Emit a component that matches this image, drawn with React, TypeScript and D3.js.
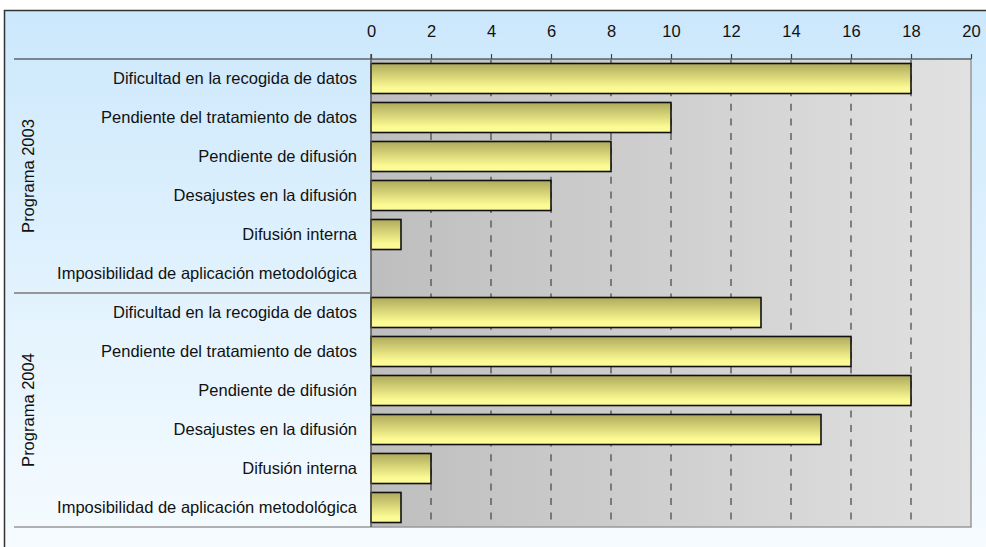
import React, { useEffect, useRef } from "react";
import { axisTop, scaleBand, scaleLinear, select } from "d3";

// categories repeated for each programme
const categories = [
  "Dificultad en la recogida de datos",
  "Pendiente del tratamiento de datos",
  "Pendiente de difusión",
  "Desajustes en la difusión",
  "Difusión interna",
  "Imposibilidad de aplicación metodológica",
];

const groups = ["Programa 2003", "Programa 2004"];

const values2003 = [18, 10, 8, 6, 1, 0];
const values2004 = [13, 16, 18, 15, 2, 1];

const xTicks = [0, 2, 4, 6, 8, 10, 12, 14, 16, 18, 20];

const FONT = "'Liberation Sans', Arial, sans-serif";

export default function App() {
  const width = 986,
    height = 547;

  const plotLeft = 371,
    plotRight = 971,
    plotTop = 59,
    plotBottom = 527,
    labelLeft = 14;

  const rows = [
    ...categories.map((c, i) => ({ group: groups[0], label: c, value: values2003[i], key: "a" + i })),
    ...categories.map((c, i) => ({ group: groups[1], label: c, value: values2004[i], key: "b" + i })),
  ];

  const x = scaleLinear().domain([0, 20]).range([plotLeft, plotRight]);
  const y = scaleBand()
    .domain(rows.map(r => r.key))
    .range([plotTop, plotBottom])
    .paddingInner(0.23)
    .paddingOuter(0.115);

  const step = y.step();
  const axisRef = useRef(null);

  useEffect(() => {
    const axis = axisTop(x)
      .tickValues(xTicks)
      .tickSize(5)
      .tickSizeOuter(0)
      .tickPadding(17);
    const g = select(axisRef.current);
    g.call(axis);
    g.select(".domain").remove();
    g.selectAll(".tick line").attr("stroke", "#444").attr("stroke-width", 1.2);
    g.selectAll(".tick text")
      .attr("fill", "#111")
      .style("font-size", "16.5px")
      .style("font-family", FONT);
  }, []);

  const groupY = (gi: number) => plotTop + gi * 6 * step;

  return (
    <svg
      width={width}
      height={height}
      style={{ position: "absolute", left: 0, top: 0 }}
    >
      <defs>
        <linearGradient id="bg" x1="0" y1="0" x2="0" y2="1">
          <stop offset="0" stopColor="#cce8fc" />
          <stop offset="1" stopColor="#f7fcff" />
        </linearGradient>
        <linearGradient id="plotBg" x1="0" y1="0" x2="1" y2="0">
          <stop offset="0" stopColor="#bebebe" />
          <stop offset="1" stopColor="#e1e1e1" />
        </linearGradient>
        <linearGradient id="bar" x1="0" y1="0" x2="0" y2="1">
          <stop offset="0" stopColor="#aeaa5c" />
          <stop offset="0.8" stopColor="#fbf992" />
          <stop offset="1" stopColor="#fdfc9c" />
        </linearGradient>
      </defs>

      <rect
        x={4.5}
        y={10.5}
        width={width + 10}
        height={height + 10}
        fill="url(#bg)"
        stroke="#333"
        strokeWidth={1.5}
      />

      <rect
        x={plotLeft}
        y={plotTop}
        width={plotRight - plotLeft}
        height={plotBottom - plotTop}
        fill="url(#plotBg)"
      />

      {xTicks.slice(1, -1).map(t => (
        <line
          key={t}
          x1={x(t)}
          x2={x(t)}
          y1={plotTop + 1}
          y2={plotBottom}
          stroke="#444"
          strokeWidth={1.2}
          strokeDasharray="7,7.6"
        />
      ))}

      {rows
        .filter(r => r.value > 0)
        .map(r => (
          <rect
            key={r.key}
            x={x(0)}
            y={y(r.key)}
            width={x(r.value) - x(0)}
            height={y.bandwidth()}
            fill="url(#bar)"
            stroke="#111"
            strokeWidth={1.6}
          />
        ))}

      {/* plot frame */}
      <line x1={plotRight} x2={plotRight} y1={plotTop} y2={plotBottom} stroke="#999" strokeWidth={1.5} />
      <line x1={labelLeft} x2={plotRight + 0.75} y1={plotBottom} y2={plotBottom} stroke="#999" strokeWidth={1.5} />
      <line x1={labelLeft} x2={plotRight} y1={plotTop} y2={plotTop} stroke="#222" strokeWidth={1.2} />
      <line x1={plotLeft} x2={plotLeft} y1={plotTop - 5} y2={plotBottom} stroke="#555" strokeWidth={1.5} />
      <line
        x1={labelLeft}
        x2={plotLeft}
        y1={groupY(1)}
        y2={groupY(1)}
        stroke="#7a7a7a"
        strokeWidth={1.5}
      />

      <g ref={axisRef} transform={`translate(0, ${plotTop})`} />

      {rows.map(r => (
        <text
          key={r.key}
          x={plotLeft - 14}
          y={y(r.key) + y.bandwidth() / 2}
          dy="0.35em"
          textAnchor="end"
          fill="#111"
          style={{ fontSize: "16.5px", fontFamily: FONT }}
        >
          {r.label}
        </text>
      ))}

      {groups.map((gname, gi) => (
        <text
          key={gname}
          transform={`translate(34, ${groupY(gi) + 3 * step}) rotate(-90)`}
          textAnchor="middle"
          fill="#111"
          style={{ fontSize: "16.5px", fontFamily: FONT }}
        >
          {gname}
        </text>
      ))}
    </svg>
  );
}
